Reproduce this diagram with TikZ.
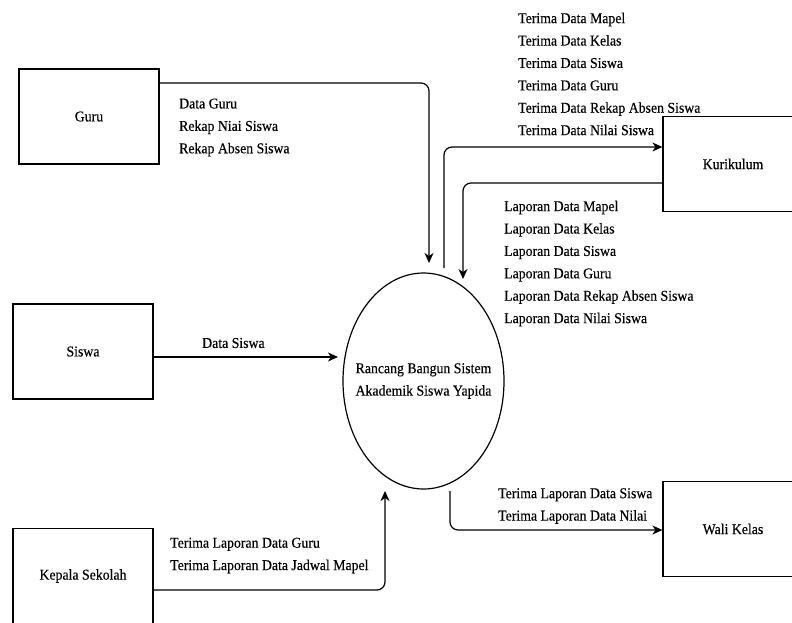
\documentclass[tikz,border=0pt]{standalone}
\usepackage{fontspec}
\setmainfont[FakeStretch=0.92,FakeBold=0.3]{Liberation Serif}
\usetikzlibrary{shapes.geometric,arrows.meta}

\tikzset{
    entitas/.style={draw, line width=1.2pt, minimum width=140pt, minimum height=95pt, inner sep=0pt},
    proses/.style={draw, ellipse, line width=1.2pt, minimum width=161pt, minimum height=216pt, inner sep=0pt},
    flow/.style={-{Stealth[length=10pt,width=9pt,inset=3pt]}, line width=1.2pt, rounded corners=8pt},
    lbl/.style={anchor=west, align=left, inner sep=0pt}
}

\begin{document}
\begin{tikzpicture}[x=1pt, y=-1pt, font=\fontsize{15}{22.4}\selectfont]

    \useasboundingbox (0,0) rectangle (792,623);
    \clip (0,0) rectangle (792,623);

    \node [entitas] (guru) at (89,116.5) {Guru};
    \node [entitas] (siswa) at (83,351.5) {Siswa};
    \node [entitas] (kepsek) at (83,576) {Kepala Sekolah};
    \node [entitas] (kurikulum) at (733,164) {Kurikulum};
    \node [entitas] (walikelas) at (733,529) {Wali Kelas};

    \node [proses, label={[align=center]center:Rancang Bangun Sistem\\Akademik Siswa Yapida}] (sistem) at (423.5,381) {};

    \coordinate (guruMasuk) at (429,263);
    \coordinate (siswaMasuk) at (338,357);
    \coordinate (sistemAtas) at (444,268);
    \coordinate (kurikulumMasuk) at (463,279);
    \coordinate (kepsekMasuk) at (385,491);
    \coordinate (sistemBawah) at (450,491);

    \draw [flow] (guru.east |- 0,83) -| (guruMasuk);
    \node [lbl] (lblGuru) at (179,127.5) {Data Guru\\Rekap Niai Siswa\\Rekap Absen Siswa};

    \draw [flow] (siswa.east |- 0,357) -- (siswaMasuk);
    \node [lbl] (lblSiswa) at (202,343) {Data Siswa};

    \draw [flow] (sistemAtas) |- (kurikulum.west |- 0,147);
    \node [lbl] (lblTerima) at (518,74) {Terima Data Mapel\\Terima Data Kelas\\Terima Data Siswa\\Terima Data Guru\\Terima Data Rekap Absen Siswa\\Terima Data Nilai Siswa};

    \draw [flow] (kurikulum.west |- 0,183) -| (kurikulumMasuk);
    \node [lbl] (lblLaporan) at (504,263.5) {Laporan Data Mapel\\Laporan Data Kelas\\Laporan Data Siswa\\Laporan Data Guru\\Laporan Data Rekap Absen Siswa\\Laporan Data Nilai Siswa};

    \draw [flow] (kepsek.east |- 0,590) -| (kepsekMasuk);
    \node [lbl] (lblKepsek) at (170,555.5) {Terima Laporan Data Guru\\Terima Laporan Data Jadwal Mapel};

    \draw [flow] (sistemBawah) |- (walikelas.west |- 0,530);
    \node [lbl] (lblWali) at (498,506) {Terima Laporan Data Siswa\\Terima Laporan Data Nilai};

\end{tikzpicture}
\end{document}
